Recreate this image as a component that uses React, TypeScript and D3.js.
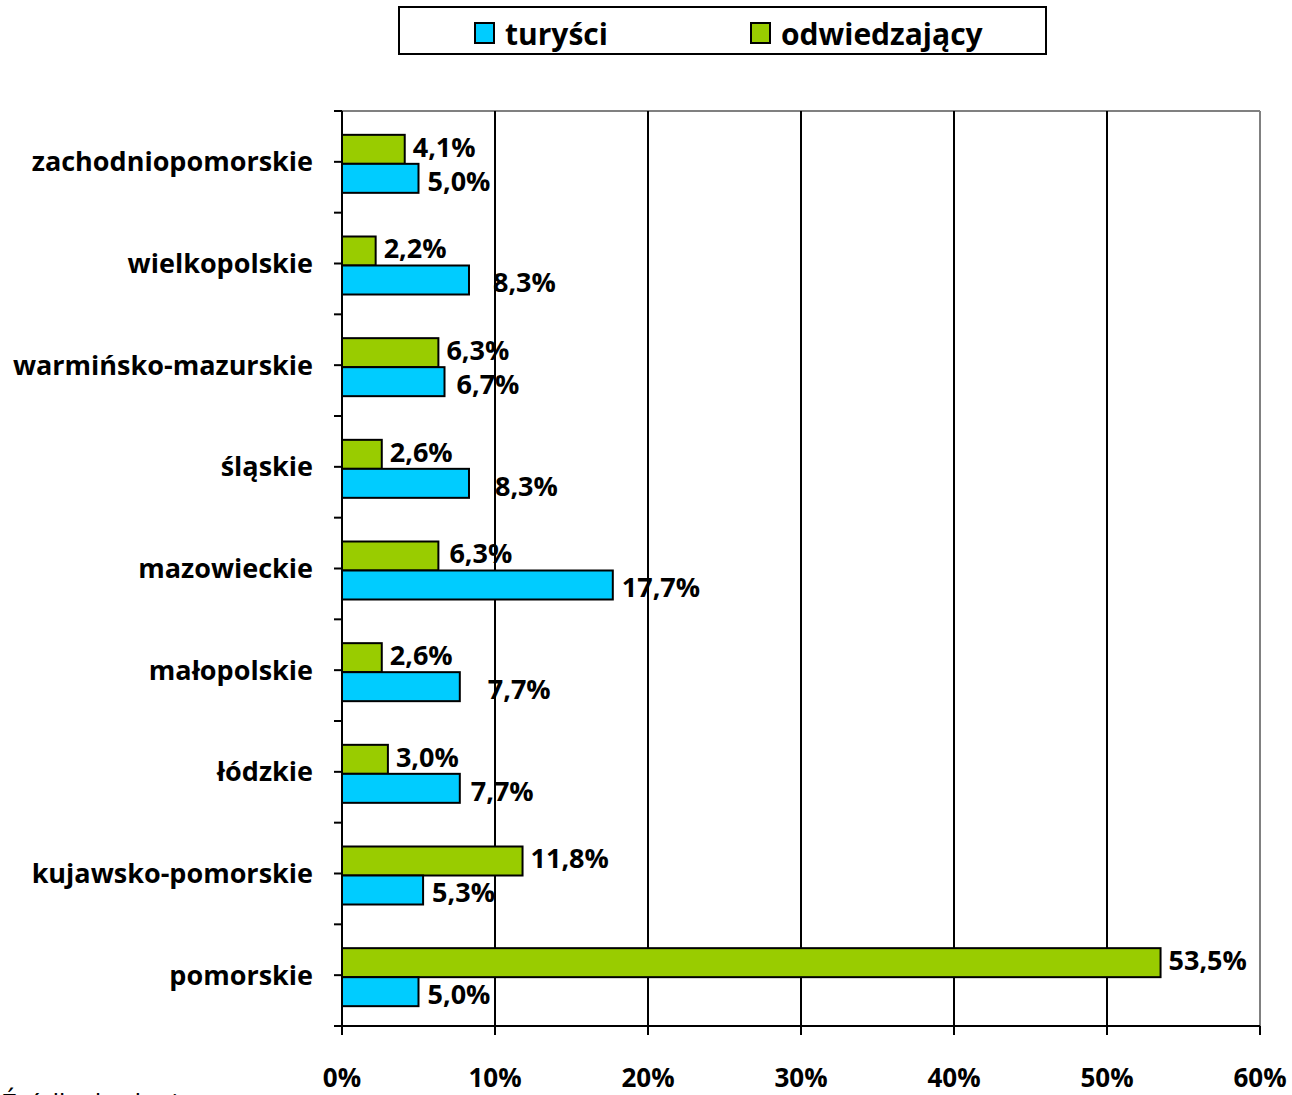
import React from "react";
import * as d3 from "d3";

const categories = [
  "zachodniopomorskie",
  "wielkopolskie",
  "warmińsko-mazurskie",
  "śląskie",
  "mazowieckie",
  "małopolskie",
  "łódzkie",
  "kujawsko-pomorskie",
  "pomorskie",
];
const turysci = [5.0, 8.3, 6.7, 8.3, 17.7, 7.7, 7.7, 5.3, 5.0];
const odwiedzajacy = [4.1, 2.2, 6.3, 2.6, 6.3, 2.6, 3.0, 11.8, 53.5];
const xTicks = [0, 10, 20, 30, 40, 50, 60];
const seriesNames = ["turyści", "odwiedzający"];

// manual label nudges (px), as placed in the original
const turysciNudge = [0, 15, 3, 17, 0, 19, 2, 0, 0];
const odwNudge = [0, 0, 0, 0, 3, 0, 0, 0, 0];

const W = 1292;
const H = 1095;
const left = 342;
const right = 1260;
const top = 111;
const bottom = 1026;
const BLUE = "#00CCFF";
const GREEN = "#99CC00";
const FONT = "'Open Sans', Lato, sans-serif";
const fmt = (v: number) => v.toFixed(1).replace(".", ",") + "%";

export default function App() {
  const x = d3.scaleLinear().domain([0, 60]).range([left, right]);
  const y = d3.scaleBand<string>().domain(categories).range([top, bottom]).padding(0);
  const bw = y.bandwidth();
  const barH = 29;
  const halfTicks = d3.range(0, categories.length * 2 + 1).map((i) => top + (i * bw) / 2);

  return (
    <svg width={W} height={H} style={{ position: "absolute", left: 0, top: 0, background: "#fff" }}>
      <rect x={0} y={0} width={W} height={H} fill="#fff" />
      {/* plot border top/right */}
      <line x1={left} x2={right} y1={top} y2={top} stroke="#808080" strokeWidth={2} />
      <line x1={right} x2={right} y1={top} y2={bottom} stroke="#808080" strokeWidth={2} />
      {/* gridlines */}
      {xTicks.slice(1, -1).map((t) => (
        <line key={t} x1={x(t)} x2={x(t)} y1={top} y2={bottom} stroke="#000" strokeWidth={2} />
      ))}
      {/* bars */}
      {categories.map((c, i) => {
        const cy = (y(c) as number) + bw / 2 + 2;
        return (
          <g key={c}>
            <rect x={x(0)} y={cy - barH} width={x(odwiedzajacy[i]) - x(0)} height={barH}
              fill={GREEN} stroke="#000" strokeWidth={2} />
            <rect x={x(0)} y={cy} width={x(turysci[i]) - x(0)} height={barH}
              fill={BLUE} stroke="#000" strokeWidth={2} />
            <text x={x(odwiedzajacy[i]) + 8 + odwNudge[i]} y={cy - barH / 2 - 2} dy="0.35em"
              fontFamily={FONT} fontWeight={700} fontSize={27} fill="#000">{fmt(odwiedzajacy[i])}</text>
            <text x={x(turysci[i]) + 9 + turysciNudge[i]} y={cy + barH / 2 + 3} dy="0.35em"
              fontFamily={FONT} fontWeight={700} fontSize={27} fill="#000">{fmt(turysci[i])}</text>
            <text x={313} y={(y(c) as number) + bw / 2} dy="0.35em" textAnchor="end"
              fontFamily={FONT} fontWeight={700} fontSize={27} fill="#000">{c}</text>
          </g>
        );
      })}
      {/* y axis */}
      <line x1={left} x2={left} y1={top} y2={bottom + 9} stroke="#000" strokeWidth={2} />
      {halfTicks.map((t, i) => (
        <line key={i} x1={left - 8} x2={left} y1={t} y2={t} stroke="#000" strokeWidth={2} />
      ))}
      {/* x axis */}
      <line x1={left - 8} x2={right} y1={bottom} y2={bottom} stroke="#000" strokeWidth={2} />
      {xTicks.map((t) => (
        <g key={t}>
          <line x1={x(t)} x2={x(t)} y1={bottom} y2={bottom + 9} stroke="#000" strokeWidth={2} />
          <text x={x(t)} y={1087} textAnchor="middle"
            fontFamily={FONT} fontWeight={700} fontSize={26} fill="#000">{t + "%"}</text>
        </g>
      ))}
      {/* legend */}
      <rect x={399} y={7} width={647} height={47} fill="#fff" stroke="#000" strokeWidth={2} />
      <rect x={475} y={23} width={19} height={20} fill={BLUE} stroke="#000" strokeWidth={2} />
      <text x={505} y={34} dy="0.35em" fontFamily={FONT} fontWeight={700} fontSize={30} fill="#000">{seriesNames[0]}</text>
      <rect x={751} y={23} width={19} height={20} fill={GREEN} stroke="#000" strokeWidth={2} />
      <text x={781} y={34} dy="0.35em" fontFamily={FONT} fontWeight={700} fontSize={30} fill="#000">{seriesNames[1]}</text>
      {/* cut-off source note */}
      <text x={2} y={1112} fontFamily={FONT} fontSize={26} fill="#000">Źródło: badania</text>
    </svg>
  );
}
